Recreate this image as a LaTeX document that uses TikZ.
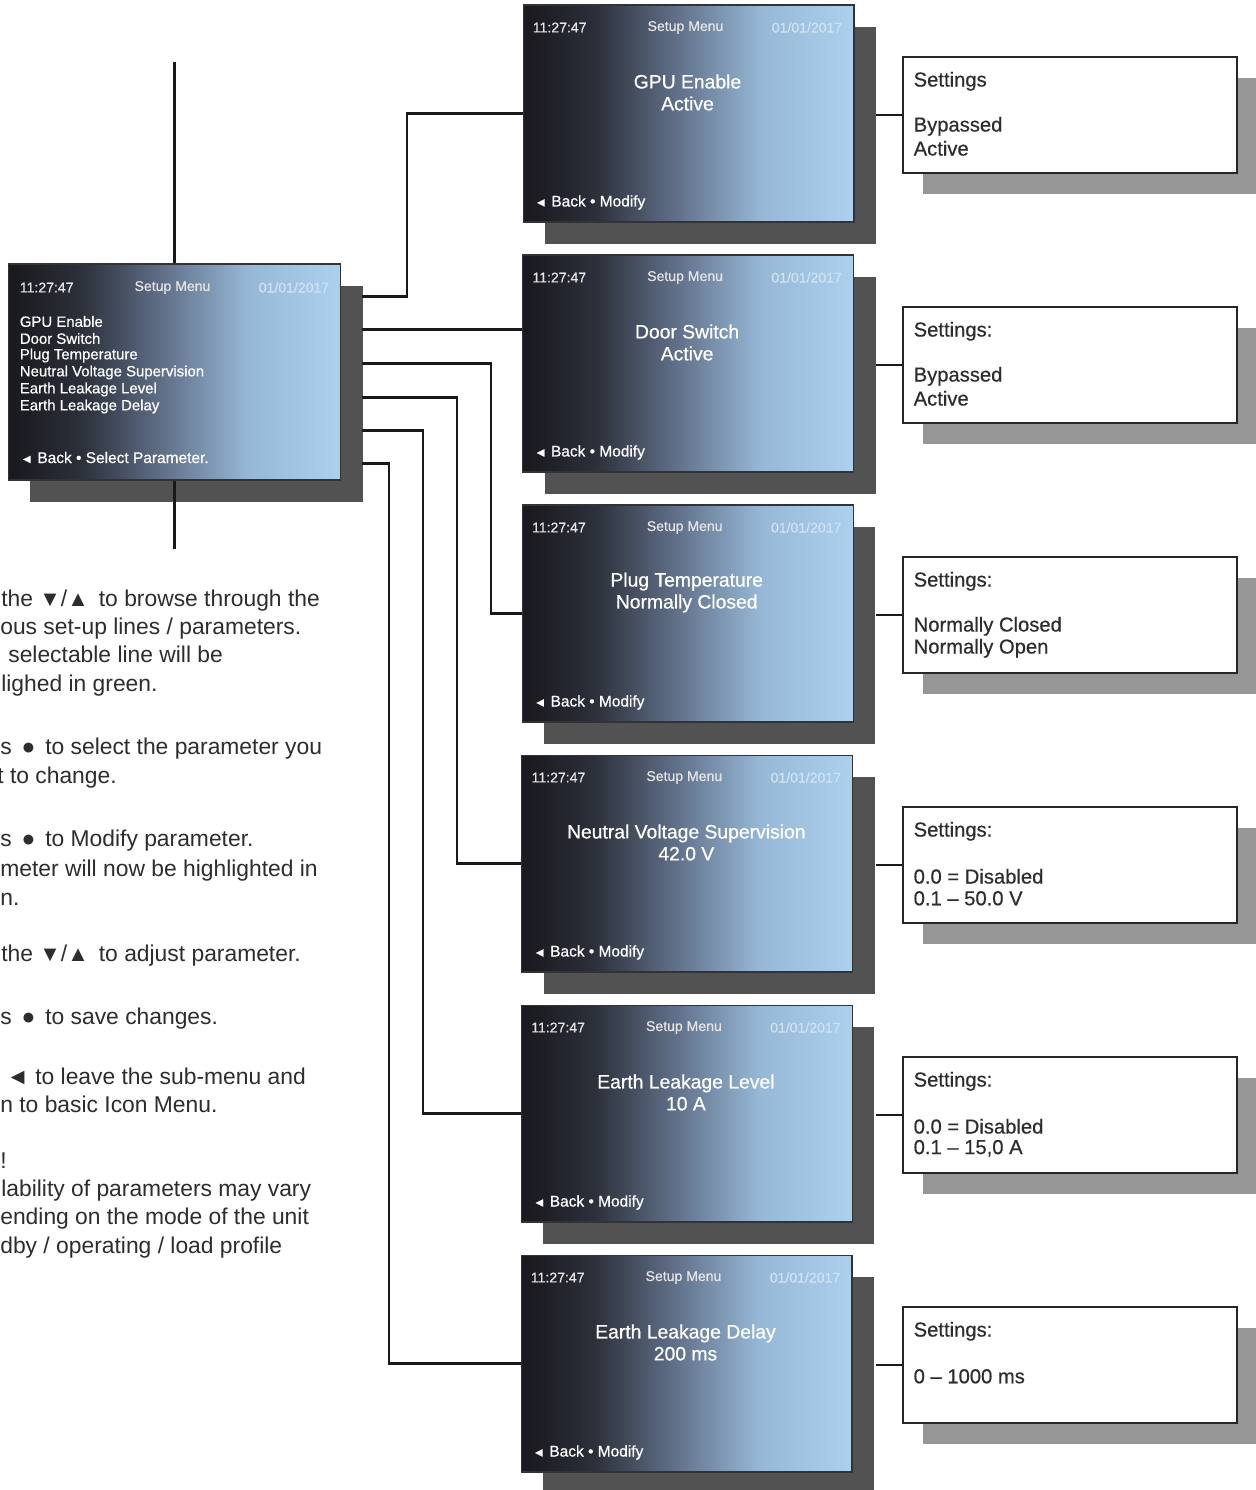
\documentclass[tikz,border=0pt]{standalone}
\usepackage{fontspec}
\setmainfont{Liberation Sans}
\newfontfamily\lcdfont{Liberation Sans}[FakeBold=0.7]
\newfontfamily\inkfont{Liberation Sans}[FakeBold=0.5]
\usetikzlibrary{positioning,calc,shadows}
\definecolor{lcdblack}{RGB}{26,26,32}
\definecolor{lcddark}{RGB}{44,48,58}
\definecolor{lcdmid}{RGB}{100,116,142}
\definecolor{lcdlight}{RGB}{150,184,214}
\definecolor{lcdedge}{RGB}{172,208,238}
\definecolor{datec}{RGB}{205,226,242}
\definecolor{scrshadow}{RGB}{82,82,82}
\definecolor{boxshadow}{RGB}{150,150,150}
\definecolor{inktext}{RGB}{45,45,45}
\pgfdeclarehorizontalshading{lcdgrad}{100bp}{color(0bp)=(lcdblack); color(26bp)=(lcdblack);
  color(36bp)=(lcddark); color(49bp)=(lcdmid); color(61bp)=(lcdlight); color(75bp)=(lcdedge);
  color(100bp)=(lcdedge)}
\newcommand\tridn{\scalebox{0.95}{▼}}
\newcommand\triup{\scalebox{0.95}{▲}}
\newcommand\dotbig{\hspace{2pt}●\hspace{2pt}}
\newcommand\tribk{\scalebox{0.8}{◄}}
\newcommand\tribig{\scalebox{1.0}{◄}}
\tikzset{
  lcd/.style={draw=black!80, line width=0.6pt, shading=lcdgrad, inner sep=0pt,
              minimum width=6.62cm, minimum height=4.34cm,
              general shadow={fill=scrshadow, shadow xshift=0.44cm, shadow yshift=-0.44cm}},
  mainlcd/.style={lcd, minimum width=6.66cm, minimum height=4.32cm},
  setbox/.style={draw=black!85, line width=0.8pt, fill=white, inner sep=0pt,
              minimum width=6.68cm, minimum height=2.32cm,
              general shadow={fill=boxshadow, shadow xshift=0.4cm, shadow yshift=-0.42cm}},
  lcdhead/.style={font=\lcdfont\fontsize{8}{9.6}\selectfont, text=white!90!black, inner sep=0pt},
  lcddate/.style={lcdhead, text=datec},
  lcdtitle/.style={font=\lcdfont\fontsize{11}{12.5}\selectfont, text=white, align=center, inner sep=0pt},
  lcdfoot/.style={font=\lcdfont\fontsize{8.8}{10}\selectfont, text=white, inner sep=0pt, anchor=west},
  lcdlist/.style={lcdfoot, font=\lcdfont\fontsize{8.5}{10}\selectfont},
  settxt/.style={font=\inkfont\fontsize{11.5}{12.5}\selectfont, text=inktext, inner sep=0pt, anchor=west},
  note/.style={font=\fontsize{13}{16}\selectfont, text=inktext, inner sep=0pt, anchor=base west},
  wire/.style={line width=1.3pt, black!90}
}
\begin{document}
\begin{tikzpicture}[x=0.02cm, y=-0.02cm]
\fill[white] (0,0) rectangle (1256,1490);
\useasboundingbox (0,0) rectangle (1256,1490);

% setup menu overview
\node[mainlcd] (main) at (174.5,372) {};
\node[lcdhead, anchor=west] (mtime) at ($(main.north west)+(12,24)$) {11:27:47};
\node[lcdhead] (mmenu) at ($(main.north west)+(165,24)$) {Setup Menu};
\node[lcddate, anchor=east] (mdate) at ($(main.north west)+(322,24)$) {01/01/2017};
\foreach \t [count=\i] in {GPU Enable, Door Switch, Plug Temperature, Neutral Voltage Supervision,
    Earth Leakage Level, Earth Leakage Delay}
  \node[lcdlist] (item\i) at ($(main.north west)+(12,{41+17*\i})$) {\t};
\node[lcdfoot] (mfoot) at ($(main.north west)+(13,194)$) {\tribk\ Back • Select Parameter.};

% parameter screens
\foreach \k/\ta/\tb in {1/GPU Enable/Active, 2/Door Switch/Active, 3/Plug Temperature/Normally Closed,
    4/Neutral Voltage Supervision/42.0 V, 5/Earth Leakage Level/10 A, 6/Earth Leakage Delay/200 ms}{
  \node[lcd] (s\k) at ({688.5-0.4*(\k-1)}, {113.5+250*(\k-1)}) {};
  \node[lcdhead, anchor=west] (t\k) at ($(s\k.north west)+(10,23)$) {11:27:47};
  \node[lcdhead] (m\k) at ($(s\k.north west)+(163,23)$) {Setup Menu};
  \node[lcddate, anchor=east] (d\k) at ($(s\k.north west)+(320,23)$) {01/01/2017};
  \node[lcdtitle] (v\k) at ($(s\k.north west)+(165,88)$) {\ta\\\tb};
  \node[lcdfoot] (f\k) at ($(s\k.north west)+(12,198)$) {\tribk\ Back • Modify};
}

% settings boxes
\foreach \k/\ttl/\la/\lb in {1/Settings/Bypassed/Active, 2/Settings:/Bypassed/Active,
    3/Settings:/Normally Closed/Normally Open, 4/Settings:/0.0 = Disabled/0.1 – 50.0 V,
    5/Settings:/0.0 = Disabled/{0.1 – 15,0 A}, 6/Settings:/0 – 1000 ms/{}}{
  \node[setbox] (set\k) at (1070, {115+250*(\k-1)}) {};
  \node[settxt] (h\k) at ($(set\k.north west)+(11,25)$) {\ttl};
  \node[settxt] (a\k) at ($(set\k.north west)+(11,70)$) {\la};
  \node[settxt] (b\k) at ($(set\k.north west)+(11,92)$) {\lb};
  \draw[wire] (set\k.west) -- ++(-26,0);
}

% connectors
\draw[wire] (main.north) -- ++(0,-201);
\draw[wire] (main.south) -- ++(0,68);
\foreach \k/\dy in {1/33, 2/66, 3/100, 4/134, 5/167, 6/200}
  \coordinate (o\k) at ($(main.north east)+(21,\dy)$);
\draw[wire] (o2) -- (o2 -| s2.west);
\foreach \k/\bx in {1/407, 3/491, 4/457, 5/423, 6/389}{
  \coordinate (bend\k) at (\bx,0);
  \draw[wire] (o\k) -| (bend\k |- s\k.west) -- (s\k.west);
}

% operating notes
\foreach \x/\y/\t [count=\i] in {1/598/{the \tridn/\triup\ \,to browse through the},
    0/626/{ous set-up lines / parameters.}, 8/654/{selectable line will be},
    1/683/{lighed in green.}, 0/746/{s \dotbig\ to select the parameter you},
    -3/775/{t to change.}, 0/838/{s \dotbig\ to Modify parameter.},
    0/868/{meter will now be highlighted in}, 0/897/{n.},
    1/953/{the \tridn/\triup\ \,to adjust parameter.}, 0/1016/{s \dotbig\ to save changes.},
    6/1076/{\tribig\ to leave the sub-menu and}, 0/1104/{n to basic Icon Menu.},
    0/1160/{!}, 1/1188/{lability of parameters may vary},
    0/1216/{ending on the mode of the unit}, 0/1245/{dby / operating / load profile}}
  \node[note] (n\i) at (\x,{\y+8}) {\t};
\end{tikzpicture}
\end{document}
